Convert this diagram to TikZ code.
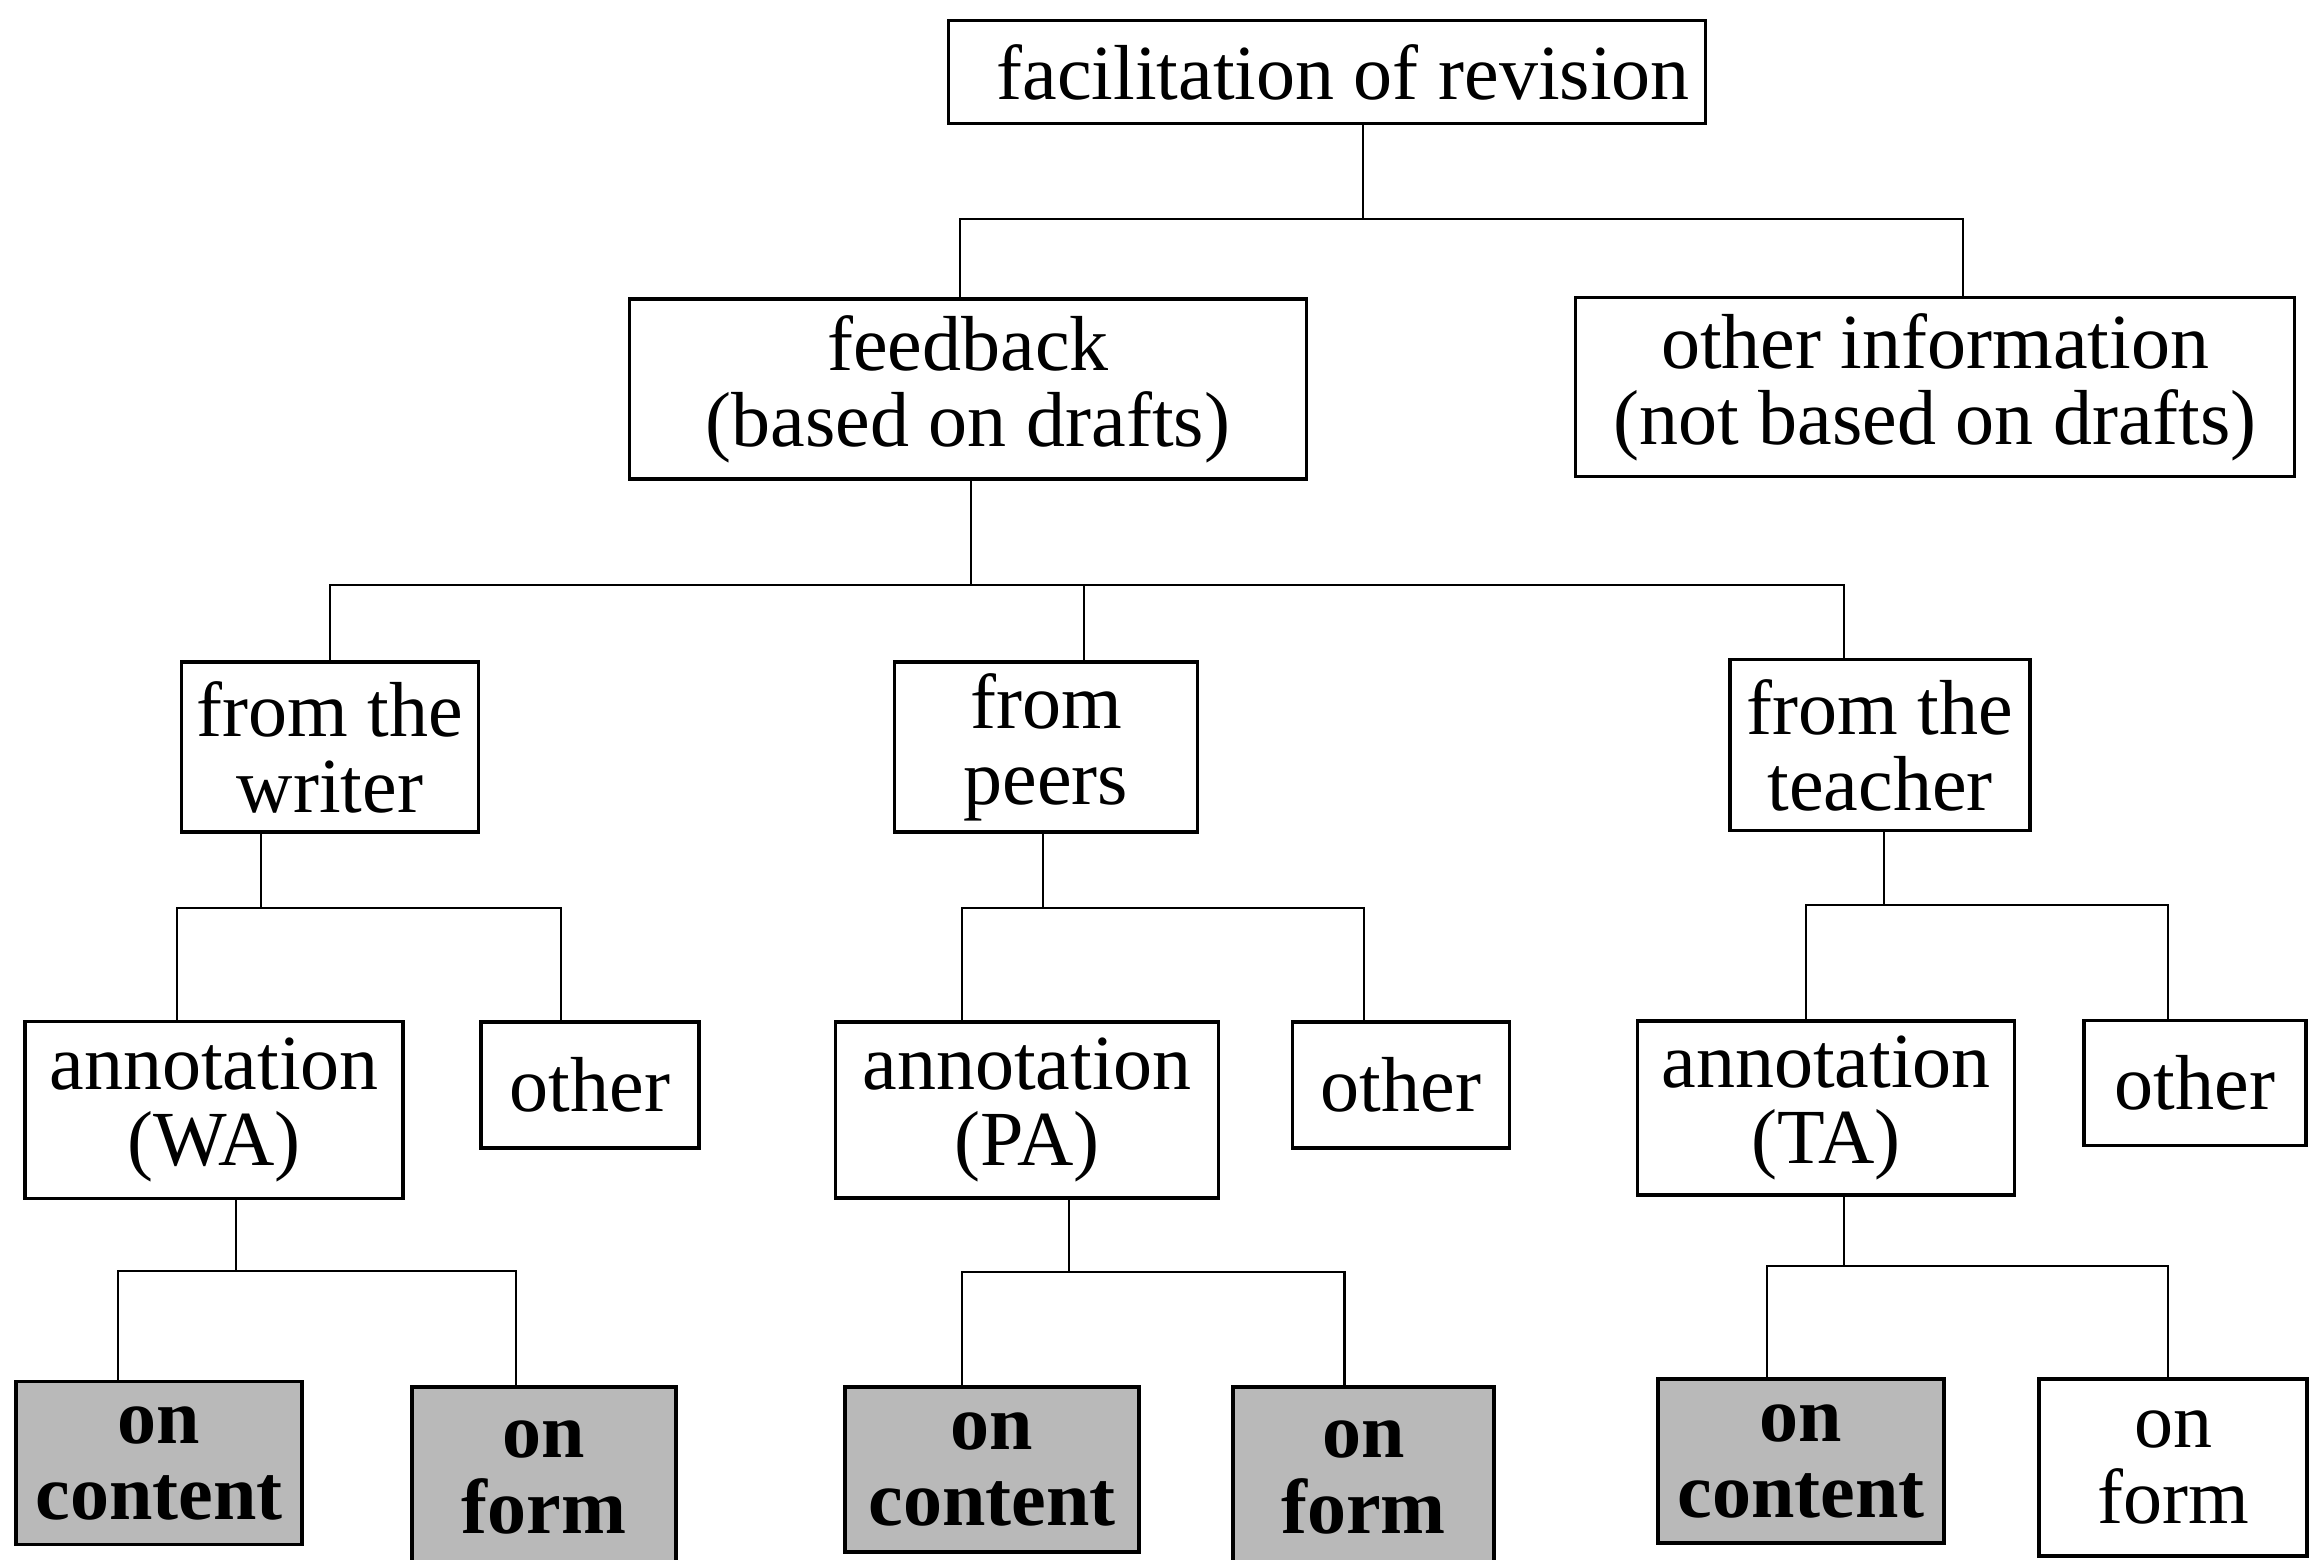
\documentclass[tikz,border=0pt]{standalone}
\usepackage{fontspec}
\setmainfont{Liberation Serif}
\usetikzlibrary{calc}
\begin{document}
\begin{tikzpicture}[x=0.25pt,y=-0.25pt,
  box/.style={draw,line width=0.9pt,rectangle,inner sep=0pt,align=center,
    font=\fontsize{19.5}{19}\selectfont},
  shadebox/.style={box,fill=gray!55,font=\fontsize{19.5}{19}\selectfont\bfseries},
  link/.style={line width=0.55pt}]
\useasboundingbox (0,0) rectangle (2313,1560);
% level 1
\node[box,minimum width=189.25pt,minimum height=25.75pt] (top) at (1327,72) {\hspace*{8pt}facilitation of revision};
% level 2
\node[box,minimum width=169.25pt,minimum height=45pt] (fb) at (968,389) {feedback\\(based on drafts)};
\node[box,minimum width=179.75pt,minimum height=44.75pt] (oi) at (1935,387) {other information\\(not based on drafts)};
% level 3
\node[box,minimum width=74.25pt,minimum height=42.5pt] (wr) at (330,747) {from the\\writer};
\node[box,minimum width=75.75pt,minimum height=42.5pt] (pe) at (1046,747) {from\\peers};
\node[box,minimum width=75pt,minimum height=42.75pt] (te) at (1880,745) {from the\\teacher};
% level 4
\node[box,minimum width=94.5pt,minimum height=44.25pt] (wa) at (214,1110) {annotation\\(WA)};
\node[box,minimum width=54.5pt,minimum height=31.5pt] (ow) at (590,1085) {other};
\node[box,minimum width=95.75pt,minimum height=44pt] (pa) at (1027,1110) {annotation\\(PA)};
\node[box,minimum width=54.25pt,minimum height=31.5pt] (op) at (1401,1085) {other};
\node[box,minimum width=94.25pt,minimum height=43.5pt] (ta) at (1826,1108) {annotation\\(TA)};
\node[box,minimum width=55.5pt,minimum height=31.25pt] (ot) at (2195,1083) {other};
% level 5
\node[shadebox,minimum width=71.5pt,minimum height=40.75pt] (cw) at (159,1463) {on\\content};
\node[shadebox,minimum width=66pt,minimum height=45.25pt] (fw) at (544,1477.5) {on\\form};
\node[shadebox,minimum width=73.5pt,minimum height=41.25pt] (pc) at (992,1469.5) {on\\content};
\node[shadebox,minimum width=65.25pt,minimum height=45.25pt] (pf) at (1363.5,1477.5) {on\\form};
\node[shadebox,minimum width=71.5pt,minimum height=41pt] (tc) at (1801,1461) {on\\content};
\node[box,minimum width=67pt,minimum height=44.25pt] (tf) at (2173,1467.5) {on\\form};
% connectors
\draw[link] ($(top.south)+(36,0)$) -- ++(0,94) -| ($(fb.north)+(-8,0)$);
\draw[link] ($(top.south)+(36,0)$) -- ++(0,94) -| ($(oi.north)+(28,0)$);
\draw[link] ($(fb.south)+(3,0)$) -- ++(0,104) -| (wr.north);
\draw[link] ($(fb.south)+(3,0)$) -- ++(0,104) -| ($(pe.north)+(38,0)$);
\draw[link] ($(fb.south)+(3,0)$) -- ++(0,104) -| ($(te.north)+(-36,0)$);
\draw[link] ($(wr.south)+(-69,0)$) -- ++(0,74) -| ($(wa.north)+(-37,0)$);
\draw[link] ($(wr.south)+(-69,0)$) -- ++(0,74) -| ($(ow.north)+(-29,0)$);
\draw[link] ($(pe.south)+(-3,0)$) -- ++(0,74) -| ($(pa.north)+(-65,0)$);
\draw[link] ($(pe.south)+(-3,0)$) -- ++(0,74) -| ($(op.north)+(-37,0)$);
\draw[link] ($(te.south)+(4,0)$) -- ++(0,73) -| ($(ta.north)+(-20,0)$);
\draw[link] ($(te.south)+(4,0)$) -- ++(0,73) -| ($(ot.north)+(-27,0)$);
\draw[link] ($(wa.south)+(22,0)$) -- ++(0,71) -| ($(cw.north)+(-41,0)$);
\draw[link] ($(wa.south)+(22,0)$) -- ++(0,71) -| ($(fw.north)+(-28,0)$);
\draw[link] ($(pa.south)+(42,0)$) -- ++(0,72) -| ($(pc.north)+(-30,0)$);
\draw[link] ($(pa.south)+(42,0)$) -- ++(0,72) -| ($(pf.north)+(-19,0)$);
\draw[link] ($(ta.south)+(18,0)$) -- ++(0,69) -| ($(tc.north)+(-34,0)$);
\draw[link] ($(ta.south)+(18,0)$) -- ++(0,69) -| ($(tf.north)+(-5,0)$);
\end{tikzpicture}
\end{document}
